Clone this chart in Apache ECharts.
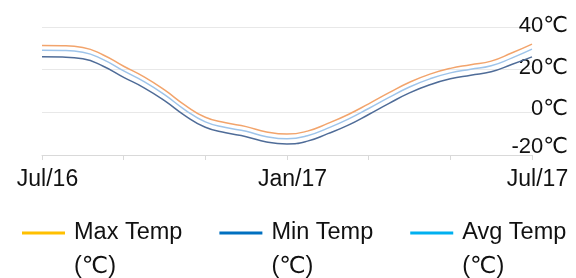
<!DOCTYPE html>
<html>
<head>
<meta charset="utf-8">
<script src="https://cdn.jsdelivr.net/npm/echarts/dist/echarts.min.js"></script>
<style>html,body{margin:0;padding:0;background:#fff}#c{width:576px;height:278px}</style>
</head>
<body>
<div id="c"></div>
<script>
// half-month steps from Jul/16 to Jul/17
var categories = ["Jul/16","","Aug/16","","Sep/16","","Oct/16","","Nov/16","","Dec/16","","Jan/17","","Feb/17","","Mar/17","","Apr/17","","May/17","","Jun/17","","Jul/17"];
var tickLabels = ["Jul/16","Jan/17","Jul/17"];
var yTicks = [-20, 0, 20, 40];
var maxTemp = [31.3, 31.2, 30.4, 26.9, 21.6, 16.6, 10.5, 3.4, -2.3, -4.9, -6.7, -9.2, -10.2, -8.8, -5.2, -1.0, 4.0, 9.2, 14.1, 17.9, 20.6, 22.3, 24.0, 27.8, 32.0];
var avgTemp = [29.1, 29.0, 28.2, 24.7, 19.4, 14.4, 8.3, 1.2, -4.5, -7.1, -8.9, -11.4, -12.4, -11.0, -7.4, -3.2, 1.8, 7.0, 11.9, 15.7, 18.5, 20.2, 21.8, 25.4, 29.6];
var minTemp = [26.0, 25.9, 25.1, 21.6, 16.4, 11.5, 5.5, -1.5, -7.0, -9.6, -11.4, -13.9, -14.8, -13.5, -10.0, -6.0, -1.0, 4.2, 9.1, 12.9, 15.7, 17.4, 19.0, 22.4, 26.0];
var seriesNames = ["Max Temp (℃)", "Min Temp (℃)", "Avg Temp (℃)"];

var FONT = "'Liberation Sans', Arial, 'DejaVu Sans', sans-serif";
function yStyle(pb) { return {color: '#111', fontSize: 22, fontFamily: FONT, padding: [0, 0, pb, 0]}; }
var chart = echarts.init(document.getElementById('c'), null, {renderer: 'canvas'});
chart.setOption({
  animation: false,
  grid: {left: 42, right: 44, top: 27, bottom: 123, containLabel: false},
  xAxis: {
    type: 'category',
    data: categories,
    boundaryGap: false,
    axisLine: {show: true, onZero: false, lineStyle: {color: '#d9d9d9', width: 1}},
    axisTick: {show: true, length: 5, interval: function (i) { return i % 4 === 0; }, lineStyle: {color: '#d9d9d9'}},
    axisLabel: {
      interval: function (i) { return i % 12 === 0; },
      formatter: function (v, i) { return tickLabels[i / 12] || v; },
      color: '#111', fontSize: 23, fontFamily: FONT, margin: 13,
      padding: [0, 0, 0, 11],
      showMinLabel: true, showMaxLabel: true
    },
    splitLine: {show: false}
  },
  yAxis: {
    type: 'value',
    position: 'right',
    min: yTicks[0], max: yTicks[yTicks.length - 1], interval: 20,
    axisLine: {show: false},
    axisTick: {show: false},
    splitLine: {show: true, lineStyle: {color: '#e8e8e8', width: 1}},
    axisLabel: {
      color: '#111', fontSize: 22, fontFamily: FONT, align: 'right', margin: 36,
      formatter: function (v) {
        var k = v === -20 ? 'm' : v === 0 ? 'z' : v === 20 ? 't' : 'f';
        return '{' + k + '|' + v + '℃}';
      },
      rich: {m: yStyle(16), z: yStyle(6), t: yStyle(3), f: yStyle(2)}
    }
  },
  legend: {
    left: 22, top: 182, padding: 0,
    icon: 'rect', itemWidth: 43, itemHeight: 3, itemGap: 37,
    formatter: function (n) { return '\n' + n.replace(' (', '\n('); },
    textStyle: {color: '#111', fontSize: 23.5, fontFamily: FONT, lineHeight: 34, padding: [0, 0, 0, 4]},
    data: [
      {name: seriesNames[0], itemStyle: {color: '#FFC000'}},
      {name: seriesNames[1], itemStyle: {color: '#0070C0'}},
      {name: seriesNames[2], itemStyle: {color: '#00B0F0'}}
    ]
  },
  series: [
    {name: seriesNames[0], type: 'line', data: maxTemp, smooth: true, showSymbol: false, symbol: 'none', lineStyle: {color: '#F2A46C', width: 1.5}, itemStyle: {color: '#FFC000'}},
    {name: seriesNames[1], type: 'line', data: minTemp, smooth: true, showSymbol: false, symbol: 'none', lineStyle: {color: '#4F6C98', width: 1.5}, itemStyle: {color: '#0070C0'}},
    {name: seriesNames[2], type: 'line', data: avgTemp, smooth: true, showSymbol: false, symbol: 'none', lineStyle: {color: '#9EC4EA', width: 1.5}, itemStyle: {color: '#00B0F0'}}
  ]
});
</script>
</body>
</html>
